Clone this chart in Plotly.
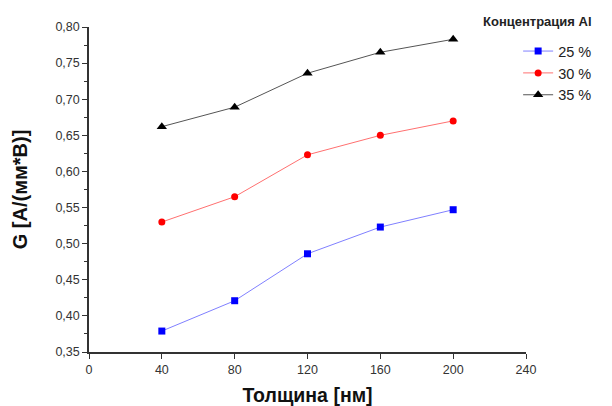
import plotly.graph_objects as go

thickness = [40, 80, 120, 160, 200]
g_25 = [0.379, 0.421, 0.486, 0.523, 0.547]
g_30 = [0.530, 0.565, 0.623, 0.650, 0.670]
g_35 = [0.662, 0.689, 0.736, 0.765, 0.783]
series_names = ["25 %", "30 %", "35 %"]

fig = go.Figure()
styles = [
    ("#0000ff", "#8080ff", "square", 7),
    ("#ff0000", "#ff7070", "circle", 7),
    ("#000000", "#555555", "triangle-up", 9),
]
for name, vals, (mc, lc, sym, sz) in zip(series_names, [g_25, g_30, g_35], styles):
    fig.add_trace(go.Scatter(
        x=thickness, y=vals, name=name, mode="lines+markers",
        line=dict(color=lc, width=1),
        marker=dict(color=mc, symbol=sym, size=sz),
    ))

fig.update_layout(
    width=612, height=406,
    margin=dict(l=89, r=86, t=27, b=54),
    paper_bgcolor="white", plot_bgcolor="white",
    separators=", ",
    font=dict(family="Liberation Sans, Arial, sans-serif", color="#333333", size=12.5),
    showlegend=True,
    legend=dict(x=0.982, y=0.975, xanchor="left", yanchor="top",
                font=dict(size=14.5, color="#222222"), bgcolor="rgba(0,0,0,0)",
                tracegroupgap=0),
    annotations=[dict(text="<b>Концентрация Al</b>", xref="paper", yref="paper",
                      x=(481 - 89) / 437, y=1.0, xanchor="left", yanchor="bottom",
                      yshift=-4, showarrow=False, font=dict(size=13, color="#222222"))],
)
fig.update_xaxes(
    range=[0, 240], tickvals=[0, 40, 80, 120, 160, 200, 240], automargin=False,
    showline=True, linecolor="#333333", linewidth=1.5, mirror=False,
    ticks="outside", ticklen=5, tickcolor="#333333", showgrid=False, zeroline=False,
    title=dict(text="<b>Толщина [нм]</b>", font=dict(size=19.5, color="#111111"), standoff=14),
)
fig.update_yaxes(
    range=[0.35, 0.80], tickvals=[0.35, 0.40, 0.45, 0.50, 0.55, 0.60, 0.65, 0.70, 0.75, 0.80],
    tickformat=".2f", automargin=False,
    showline=True, linecolor="#333333", linewidth=1.5,
    ticks="outside", ticklen=5, tickcolor="#333333", showgrid=False, zeroline=False,
    minor=dict(dtick=0.025, tick0=0.35, ticks="outside", ticklen=3, tickcolor="#333333", showgrid=False),
    title=dict(text="<b>G [A/(мм*B)]</b>", font=dict(size=20, color="#111111"), standoff=22),
)
fig.write_html("out.html")
